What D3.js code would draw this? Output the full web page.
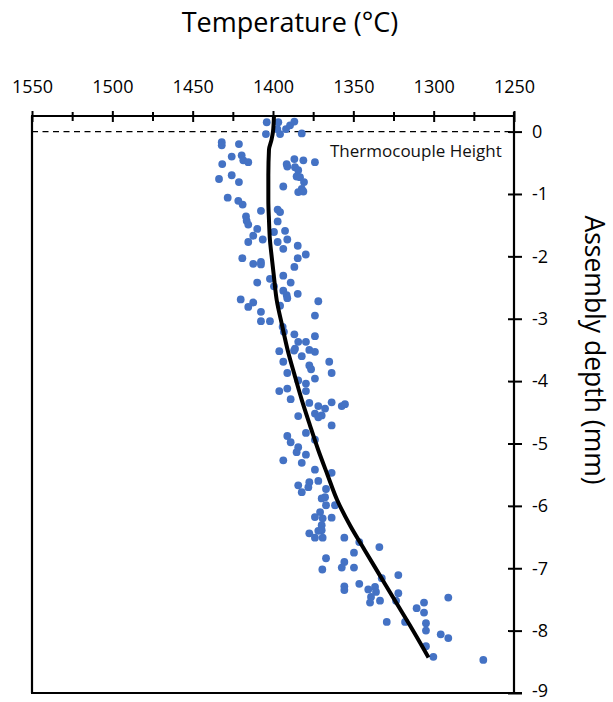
<!DOCTYPE html>
<html>
<head>
<meta charset="utf-8">
<script src="https://cdn.jsdelivr.net/npm/d3@7"></script>
<style>
  html, body { margin: 0; padding: 0; background: #fff; }
  svg { display: block; font-family: "Open Sans", Lato, sans-serif; }
</style>
</head>
<body>
<svg id="chart" width="613" height="702"></svg>
<script>
// Measured temperatures (°C) and their assembly depths (mm)
const measTemp = [
  1403.9, 1404.4, 1396.7, 1397.3, 1395.6, 1391.9, 1389.4, 1386.7, 1382.1,
  1431.9, 1431.9, 1421.2, 1425.7, 1419.5, 1418.5, 1415.4, 1431.6, 1433.6, 1425.7, 1421.2,
  1386.7, 1381.1, 1373.9, 1391.5, 1391.1, 1386.3, 1384.3, 1385.3, 1383.2, 1380.7, 1382.1, 1384.3, 1381.1, 1393.6,
  1428.2, 1421.6, 1418.9, 1407.5, 1397.1, 1395.6, 1416.8, 1416.4, 1397.1, 1415.4, 1409.8, 1399.4, 1392.5,
  1412.3, 1406.4, 1415.4, 1397.1, 1391.1, 1393.6, 1384.6, 1419.1, 1412.3, 1407.5, 1407.5, 1384.6, 1379.6,
  1386.7, 1393.6, 1401.9, 1409.8, 1389.0, 1399.4, 1393.6, 1391.5, 1384.6, 1391.1, 1420.1, 1412.3, 1415.4,
  1371.8, 1395.6,
  1407.5, 1407.5, 1401.9, 1373.9, 1394.0, 1393.2, 1386.7, 1373.9, 1384.3, 1379.5, 1386.3, 1386.9, 1396.1,
  1377.4, 1373.9, 1382.1, 1393.6, 1365.0, 1377.4, 1376.3, 1363.5, 1391.1, 1373.9, 1384.3, 1379.5, 1391.1,
  1396.1, 1379.5, 1389.0, 1377.4, 1363.5, 1357.2, 1355.2, 1371.8, 1367.6, 1373.9, 1369.7, 1384.3, 1371.8,
  1363.5, 1379.5, 1391.1, 1389.0, 1373.9, 1384.3, 1385.3, 1379.5, 1393.6, 1382.1, 1373.9, 1363.5, 1371.8,
  1377.4, 1378.0, 1384.3, 1382.1, 1367.0, 1367.6, 1369.7,
  1361.4, 1367.0, 1370.7, 1373.9, 1369.1, 1363.5, 1369.7, 1369.7, 1371.8, 1377.4, 1373.9, 1369.1, 1355.6,
  1346.3, 1333.8, 1349.6, 1367.0, 1355.6, 1357.2, 1349.6, 1369.3, 1332.3, 1322.0, 1355.6, 1355.6, 1346.3,
  1340.7, 1336.5, 1335.9, 1339.0, 1339.6, 1333.4, 1322.0, 1323.4, 1310.6, 1306.0, 1306.0, 1290.9, 1329.2,
  1317.8, 1304.8, 1304.8, 1295.6, 1290.9, 1304.8, 1300.2, 1269.1
];
const measDepth = [
  0.15, -0.04, 0.15, 0.04, -0.04, 0.04, 0.10, 0.16, -0.03,
  -0.17, -0.22, -0.20, -0.40, -0.38, -0.46, -0.49, -0.52, -0.76, -0.70, -0.81,
  -0.44, -0.46, -0.49, -0.52, -0.56, -0.57, -0.62, -0.72, -0.73, -0.81, -0.92, -0.97, -0.96, -0.88,
  -1.06, -1.11, -1.17, -1.27, -1.25, -1.29, -1.36, -1.43, -1.44, -1.49, -1.56, -1.61, -1.59,
  -1.67, -1.73, -1.77, -1.77, -1.73, -1.88, -1.83, -2.03, -2.12, -2.09, -2.13, -2.03, -1.97,
  -2.17, -2.31, -2.36, -2.42, -2.42, -2.48, -2.55, -2.62, -2.60, -2.67, -2.69, -2.74, -2.81,
  -2.72, -2.79,
  -2.89, -3.04, -3.04, -2.95, -3.13, -3.21, -3.25, -3.28, -3.37, -3.37, -3.48, -3.51, -3.52,
  -3.50, -3.53, -3.60, -3.69, -3.69, -3.75, -3.81, -3.87, -3.87, -3.96, -3.99, -4.04, -4.12,
  -4.16, -4.16, -4.29, -4.35, -4.34, -4.40, -4.37, -4.40, -4.44, -4.52, -4.55, -4.56, -4.58,
  -4.71, -4.83, -4.88, -4.98, -4.94, -5.06, -5.14, -5.18, -5.27, -5.31, -5.42, -5.47, -5.60,
  -5.62, -5.70, -5.67, -5.78, -5.73, -5.86, -5.88,
  -5.99, -5.99, -6.10, -6.18, -6.20, -6.19, -6.31, -6.39, -6.40, -6.44, -6.51, -6.51, -6.51,
  -6.58, -6.66, -6.75, -6.84, -6.90, -6.99, -6.99, -7.02, -7.16, -7.11, -7.29, -7.35, -7.25,
  -7.34, -7.30, -7.38, -7.46, -7.55, -7.52, -7.40, -7.52, -7.64, -7.55, -7.71, -7.47, -7.86,
  -7.86, -7.88, -8.00, -8.06, -8.12, -8.25, -8.42, -8.47
];

// Fitted temperature profile through the assembly
const fitTemp  = [1399.4, 1400.0, 1400.9, 1402.5, 1402.9, 1402.9, 1402.5, 1401.9, 1400.8, 1399.4,
                  1397.7, 1394.4, 1390.9, 1386.6, 1382.1, 1377.1, 1371.9, 1366.1, 1360.0, 1352.1,
                  1342.9, 1333.6, 1324.3, 1314.9, 1303.2];
const fitDepth = [0.25, 0.0, -0.13, -0.29, -0.70, -1.10, -1.42, -1.74, -2.01, -2.33,
                  -2.70, -3.10, -3.50, -3.90, -4.30, -4.70, -5.10, -5.50, -5.91, -6.31,
                  -6.71, -7.11, -7.51, -7.91, -8.43];

// Axis ticks
const tempMajorTicks = [1550, 1500, 1450, 1400, 1350, 1300, 1250];
const tempMinorTicks = [1525, 1475, 1425, 1375, 1325, 1275];
const depthTicks = [0, -1, -2, -3, -4, -5, -6, -7, -8, -9];
const thermocoupleDepth = 0;

const FONT = "'Open Sans', Lato, sans-serif";
const svg = d3.select("#chart");
const plotLeft = 32, plotRight = 514, plotTop = 116, plotBottom = 693;

const x = d3.scaleLinear().domain([1550, 1250]).range([plotLeft, plotRight]);
const y = d3.scaleLinear().domain([-9, 0.25]).range([plotBottom, plotTop]);

// Frame: left and bottom borders
svg.append("line").attr("x1", plotLeft).attr("x2", plotLeft).attr("y1", plotTop).attr("y2", plotBottom)
  .attr("stroke", "#000").attr("stroke-width", 2.2);
svg.append("line").attr("x1", plotLeft - 1).attr("x2", plotRight + 8).attr("y1", plotBottom).attr("y2", plotBottom)
  .attr("stroke", "#000").attr("stroke-width", 2.2);

// Top temperature axis
const gx = svg.append("g").attr("transform", `translate(0,${plotTop})`)
  .call(d3.axisTop(x).tickValues(tempMajorTicks).tickFormat(d => String(d)).tickSize(0).tickPadding(0));
gx.select(".domain").attr("stroke-width", 2.2).attr("d", `M${plotLeft - 1},0H${plotRight}`);
gx.selectAll(".tick line").attr("y1", -5).attr("y2", 6).attr("stroke-width", 2);
gx.selectAll(".tick text").attr("y", -23).attr("font-size", 18)
  .attr("font-family", FONT).attr("fill", "#000");

const gxm = svg.append("g").attr("transform", `translate(0,${plotTop})`)
  .call(d3.axisTop(x).tickValues(tempMinorTicks).tickFormat("").tickSize(0));
gxm.select(".domain").remove();
gxm.selectAll(".tick line").attr("y1", -4).attr("y2", 5).attr("stroke-width", 2);

// Right depth axis
const gy = svg.append("g").attr("transform", `translate(${plotRight},0)`)
  .call(d3.axisRight(y).tickValues(depthTicks).tickFormat(d => String(d)).tickSize(0).tickPadding(0));
gy.select(".domain").attr("stroke-width", 2.2).attr("d", `M0,${plotTop - 4}V${plotBottom + 1}`);
gy.selectAll(".tick line").attr("x1", -6).attr("x2", 8).attr("stroke-width", 2);
gy.selectAll(".tick text").attr("x", 18).attr("font-size", 18)
  .attr("font-family", FONT).attr("fill", "#000");
// keep the lowest label inside the page edge
gy.selectAll(".tick text").filter(d => d === -9).attr("dy", "0.2em");

// Thermocouple reference line
svg.append("line")
  .attr("x1", plotLeft).attr("x2", plotRight).attr("y1", y(thermocoupleDepth)).attr("y2", y(thermocoupleDepth))
  .attr("stroke", "#000").attr("stroke-width", 1.4).attr("stroke-dasharray", "6,4.5");
svg.append("text").attr("x", 330).attr("y", 157).attr("font-size", 17).attr("fill", "#111")
  .attr("font-family", FONT).text("Thermocouple Height");

// Measured points
const pts = measTemp.map((t, i) => ({ t, d: measDepth[i] }));
svg.append("g").selectAll("circle").data(pts).join("circle")
  .attr("cx", p => x(p.t)).attr("cy", p => y(p.d)).attr("r", 3.9)
  .attr("fill", "#4472C4");

// Fitted profile
const fit = fitTemp.map((t, i) => ({ t, d: fitDepth[i] }));
svg.append("path").datum(fit)
  .attr("d", d3.line().x(p => x(p.t)).y(p => y(p.d)).curve(d3.curveMonotoneY))
  .attr("fill", "none").attr("stroke", "#000").attr("stroke-width", 4).attr("stroke-linejoin", "round");

// Axis titles
svg.append("text").attr("x", 290).attr("y", 32).attr("text-anchor", "middle")
  .attr("font-size", 27).attr("font-family", FONT).attr("fill", "#000").text("Temperature (°C)");
svg.append("text").attr("transform", "translate(585,350) rotate(90)").attr("text-anchor", "middle")
  .attr("font-size", 26.5).attr("font-family", FONT).attr("fill", "#000").text("Assembly depth (mm)");
</script>
</body>
</html>
